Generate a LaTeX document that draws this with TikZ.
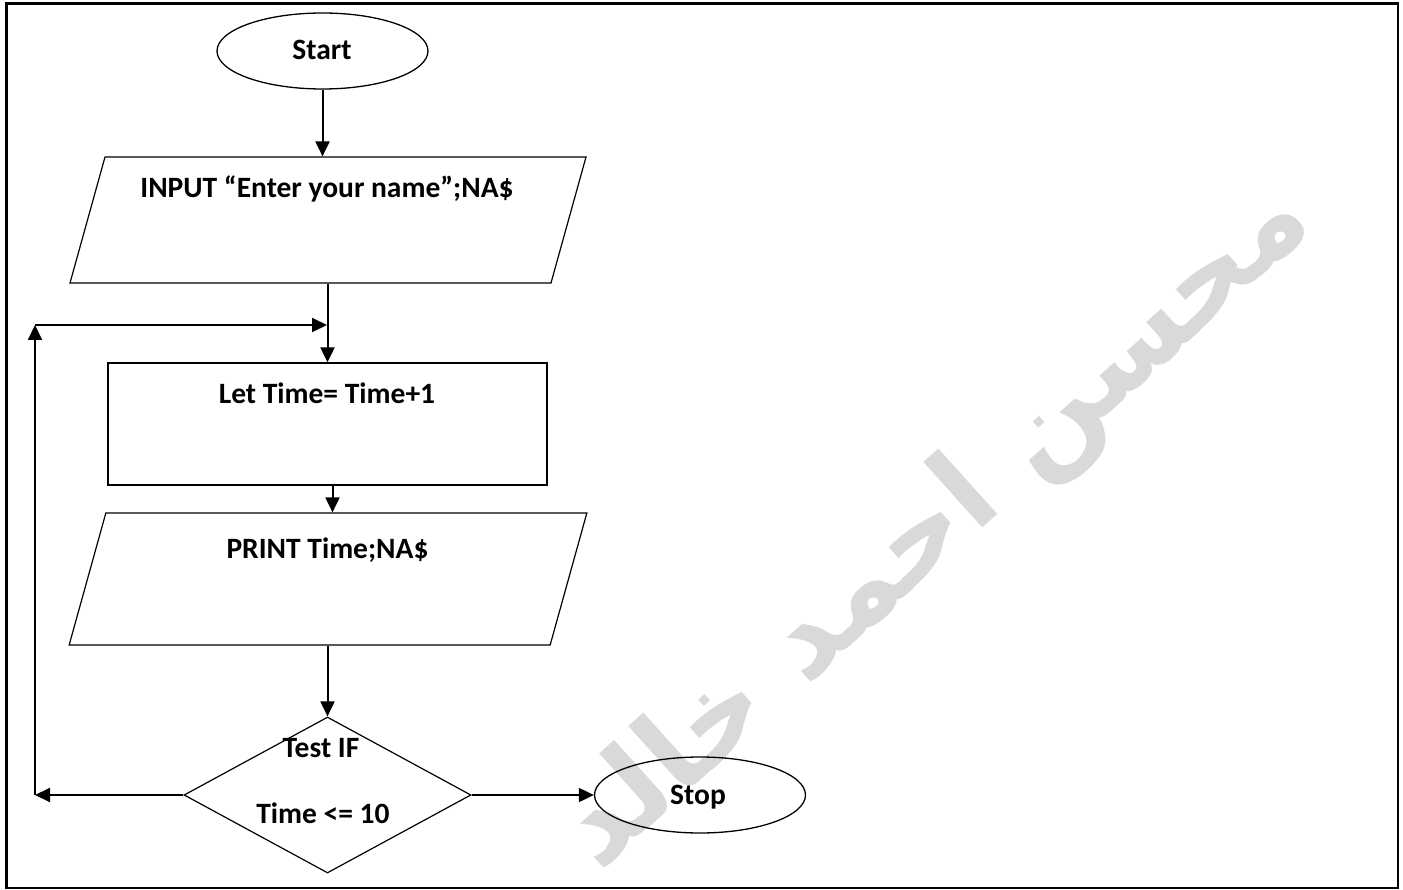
\documentclass[tikz,border=0pt]{standalone}
\usepackage{fontspec}
\setmainfont{Carlito}
\newfontfamily\arabicfont[Script=Arabic]{DejaVu Sans}
\TeXXeTstate=1
\usetikzlibrary{shapes.geometric,arrows.meta,positioning}

\tikzset{
  term/.style={draw,ellipse,line width=1.3pt,minimum width=211pt,minimum height=76pt},
  inout/.style={draw,rectangle,xslant=0.278,line width=1.2pt,minimum width=481pt},
  procbox/.style={draw,rectangle,line width=1.3pt,minimum width=439pt,minimum height=122pt},
  decide/.style={draw,diamond,line width=1.2pt,minimum width=287pt,minimum height=156pt},
  txt/.style={font=\bfseries\fontsize{29.5}{34}\selectfont},
  flow/.style={line width=2pt,-{Triangle[length=15pt,width=14pt]}},
  wmark/.style={text=black!15,font=\arabicfont\bfseries\fontsize{116}{134}\selectfont}
}

\begin{document}
\begin{tikzpicture}[x=1pt,y=-1pt]
  \useasboundingbox (0,0) rectangle (1403,890);
  \node[wmark,rotate=42] (mark) at (937,528) {\beginR محسن احمد خالد\endR};
  \draw[line width=2.2pt] (6.5,3.5) rectangle (1398,888);

  \node[term] (start) at (322.5,51) {};
  \node[inout,minimum height=126pt] (inp) at (328,220) {};
  \node[procbox] (let) at (327.5,424) {};
  \node[inout,minimum height=132pt] (prt) at (328,579) {};
  \node[decide] (test) at (327.5,795) {};
  \node[term] (stop) at (700,795) {};

  \node[txt] (starttxt) at (322,50) {Start};
  \node[txt] (inptxt) at (327,189) {INPUT “Enter your name”;NA\$};
  \node[txt] (lettxt) at (327,393) {Let Time= Time+1};
  \node[txt] (prttxt) at (327.5,550) {PRINT Time;NA\$};
  \node[txt] (testtxt) at (321,748) {Test IF};
  \node[txt] (condtxt) at (323,813) {Time <= 10};
  \node[txt] (stoptxt) at (698,797) {Stop};

  \coordinate (back) at (35,795);
  \coordinate (corner) at (35,325);
  \coordinate (join) at (327,325);

  \draw[flow] (start.south) -- (start.south |- inp.north);
  \draw[flow] (let.north |- inp.south) -- (let.north);
  \draw[flow] ([xshift=5pt]let.south) -- ([xshift=5pt]let.south |- prt.north);
  \draw[flow] (test.north |- prt.south) -- (test.north);
  \draw[flow] (test.east) -- (stop.west);
  \draw[flow] (test.west) -- (back);
  \draw[flow] (back) -- (corner);
  \draw[flow] (corner) -- (join);
\end{tikzpicture}
\end{document}
